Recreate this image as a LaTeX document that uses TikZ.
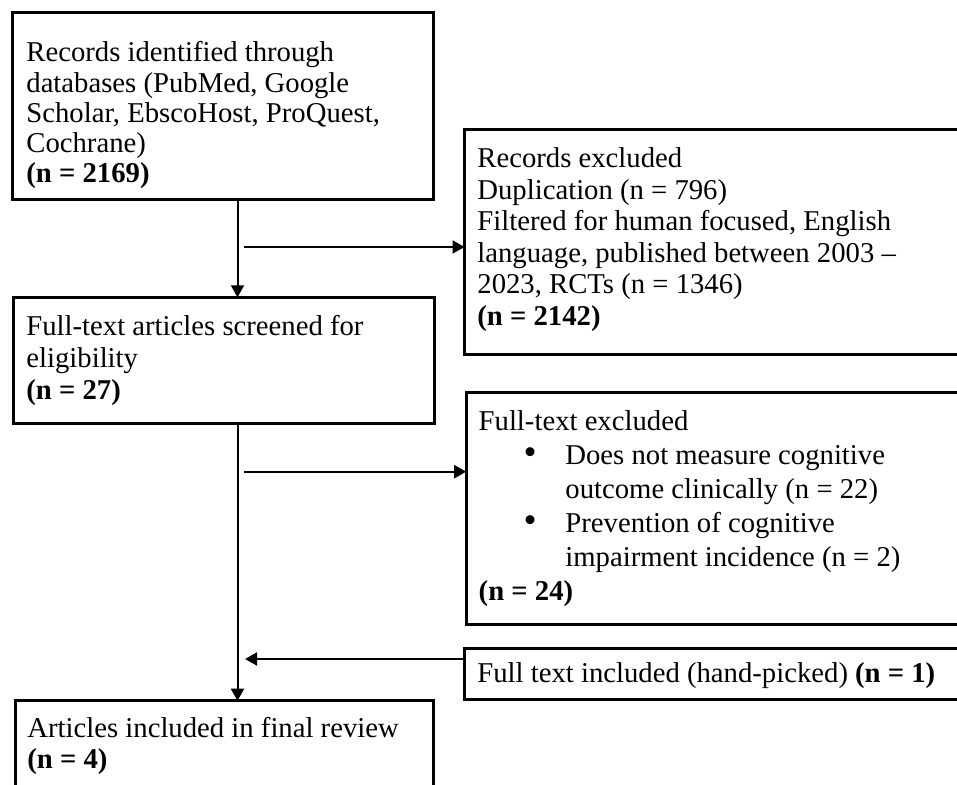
\documentclass[tikz,border=0pt]{standalone}
\usepackage{fontspec}
\setmainfont{Liberation Serif}
\usetikzlibrary{arrows.meta}
\newcommand{\fsz}[1]{\fontsize{14.35}{#1}\selectfont}
\begin{document}
\begin{tikzpicture}[x=0.5pt,y=-0.5pt,
  box/.style={draw, line width=1.5pt, inner sep=0pt, outer sep=0pt, anchor=north west},
  txt/.style={anchor=base west, inner sep=0pt, align=left},
  arr/.style={line width=1pt, -{Triangle[length=6pt,width=6.5pt]}},
  conn/.style={line width=1pt}]
\useasboundingbox (0,0) rectangle (957,785);
\clip (0,0) rectangle (957,785);
% boxes
\node[box, minimum width=210.5pt, minimum height=93.75pt] (b1) at (12.5,12.5) {};
\node[box, minimum width=260pt, minimum height=112.5pt] (b2) at (464.5,130) {};
\node[box, minimum width=210.5pt, minimum height=63.35pt] (b3) at (13,297.3) {};
\node[box, minimum width=260pt, minimum height=115.8pt] (b4) at (466.2,392.7) {};
\node[box, minimum width=260pt, minimum height=25.5pt] (b5) at (464.5,648.3) {};
\node[box, minimum width=209.15pt, minimum height=60pt] (b6) at (15,700.7) {};
% texts (anchored at the baseline of the last line)
\node[txt, font=\fsz{15.1pt}] (t1) at (26,182.7) {Records identified through\\databases (PubMed, Google\\Scholar, EbscoHost, ProQuest,\\Cochrane)\\\textbf{(n = 2169)}};
\node[txt, font=\fsz{15.75pt}] (t2) at (477,325.2) {Records excluded\\Duplication (n = 796)\\Filtered for human focused, English\\language, published between 2003 –\\2023, RCTs (n = 1346)\\\textbf{(n = 2142)}};
\node[txt, font=\fsz{16pt}] (t3) at (26,400) {Full-text articles screened for\\eligibility\\\textbf{(n = 27)}};
\node[txt, font=\fsz{17pt}] (t4) at (478.3,600) {Full-text excluded\\\hspace*{22.5pt}\makebox[20.85pt][l]{\raisebox{-0.3pt}{\scalebox{1.3}{•}}}Does not measure cognitive\\\hspace*{43.35pt}outcome clinically (n = 22)\\\hspace*{22.5pt}\makebox[20.85pt][l]{\raisebox{-0.3pt}{\scalebox{1.3}{•}}}Prevention of cognitive\\\hspace*{43.35pt}impairment incidence (n = 2)\\\textbf{(n = 24)}};
\node[txt, font=\fsz{16pt}] (t5) at (477,682) {Full text included (hand-picked) \textbf{(n = 1)}};
\node[txt, font=\fsz{15.3pt}] (t6) at (27,768) {Articles included in final review\\\textbf{(n = 4)}};
% connectors
\coordinate (spine) at (237.5,0);
\coordinate (j1) at (243.5,247);
\coordinate (j2) at (244,471.7);
\coordinate (j3) at (245,659);
\draw[arr] (b1.south -| spine) -- (b3.north -| spine);
\draw[arr] (b3.south -| spine) -- (b6.north -| spine);
\draw[arr] (j1) -- (j1 -| b2.west);
\draw[arr] (j2) -- (j2 -| b4.west);
\draw[arr] (j3 -| b5.west) -- (j3);
\end{tikzpicture}
\end{document}
